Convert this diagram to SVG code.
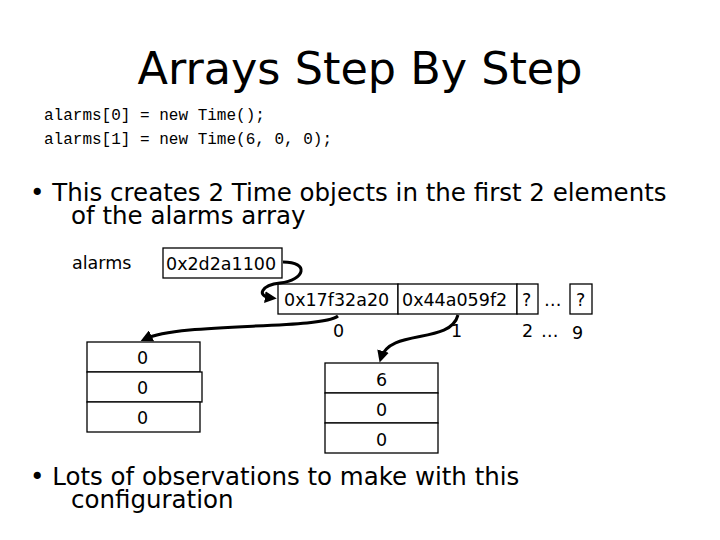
<svg xmlns="http://www.w3.org/2000/svg" width="720" height="540" viewBox="0 0 720 540">
<style>
.t{font-family:"DejaVu Sans",Verdana,sans-serif;fill:#000}
.m{font-family:"Liberation Mono","Courier New",monospace;font-size:16px}
.b{fill:#fff;stroke:#000;stroke-width:1.3}
.c{fill:none;stroke:#000;stroke-width:3}
.s{font-size:17.5px}
.p{font-size:24.5px}
</style>
<defs><marker id="a" viewBox="0 0 10 10" refX="6" refY="5" markerWidth="4" markerHeight="4" orient="auto"><path d="M0,0L10,5L0,10z"/></marker></defs>
<rect width="720" height="540" fill="#fff"/>
<text class="t" x="360" y="84" font-size="44.5" text-anchor="middle">Arrays Step By Step</text>
<text class="m" x="44" y="120">alarms[0] = new Time();</text>
<text class="m" x="44" y="144">alarms[1] = new Time(6, 0, 0);</text>
<text class="t p" x="30" y="201">• This creates 2 Time objects in the first 2 elements</text>
<text class="t p" x="71" y="224">of the alarms array</text>
<text class="t s" x="72" y="269">alarms</text>
<g id="ref"><rect class="b" x="163" y="248" width="119" height="30"/><text class="t s" x="166" y="270">0x2d2a1100</text></g>
<g id="array">
<rect class="b" x="278" y="284" width="120" height="30"/><text class="t s" x="284" y="306">0x17f32a20</text>
<rect class="b" x="398" y="284" width="119" height="30"/><text class="t s" x="402" y="306">0x44a059f2</text>
<rect class="b" x="517" y="284" width="21" height="30"/><text class="t s" x="522" y="306">?</text>
<text class="t s" x="544" y="306">…</text>
<rect class="b" x="570" y="284" width="22" height="30"/><text class="t s" x="576" y="306">?</text>
<text class="t s" x="333" y="337">0</text><text class="t s" x="451" y="337">1</text>
<text class="t s" x="522" y="337">2</text><text class="t s" x="541" y="337">…</text><text class="t s" x="572" y="339">9</text>
</g>
<g id="obj0">
<rect class="b" x="87" y="342" width="113" height="30"/><text class="t s" x="137" y="364">0</text>
<rect class="b" x="87" y="372" width="115" height="30"/><text class="t s" x="137" y="394">0</text>
<rect class="b" x="87" y="402" width="113" height="30"/><text class="t s" x="137" y="424">0</text>
</g>
<g id="obj1">
<rect class="b" x="325" y="363" width="113" height="30"/><text class="t s" x="376" y="386">6</text>
<rect class="b" x="325" y="393" width="113" height="30"/><text class="t s" x="376" y="416">0</text>
<rect class="b" x="325" y="423" width="113" height="30"/><text class="t s" x="376" y="446">0</text>
</g>
<g id="connectors">
<path class="c" d="M283,262 C310,262 305,280 280,283 C262,285 255,296 272,298" marker-end="url(#a)"/>
<path class="c" d="M338,316 C320,330 180,322 145,339" marker-end="url(#a)"/>
<path class="c" d="M458,315 C450,345 390,328 381,358" marker-end="url(#a)"/>
</g>
<text class="t p" x="30" y="485">• Lots of observations to make with this</text>
<text class="t p" x="71" y="508">configuration</text>
</svg>
